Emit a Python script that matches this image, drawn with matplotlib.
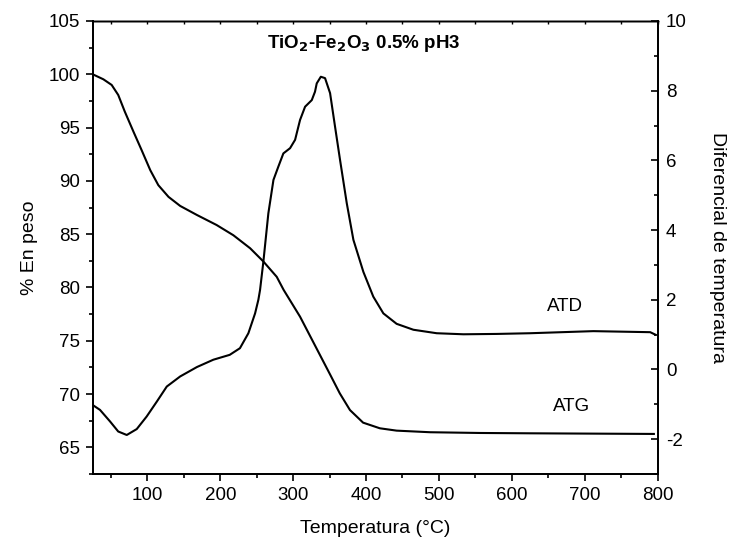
import numpy as np
import matplotlib
matplotlib.use("Agg")
import matplotlib.pyplot as plt
from matplotlib.ticker import MultipleLocator

plt.rcParams['font.family'] = ['Liberation Sans', 'DejaVu Sans']
plt.rcParams['axes.unicode_minus'] = False

# ATG (% en peso), eje izquierdo
atg_T = [25, 39.6, 51, 60, 69, 81, 92, 104, 115, 129, 145, 168, 195, 218, 241,
         259, 277.5, 287, 309.5, 332, 351, 364, 378, 396, 419, 442, 488, 557,
         625, 795]
atg_w = [100.0, 99.53, 99.0, 98.06, 96.5, 94.6, 92.9, 91.0, 89.6, 88.5, 87.65,
         86.8, 85.86, 84.9, 83.68, 82.45, 81.0, 79.77, 77.26, 74.3, 71.8, 70.07,
         68.5, 67.32, 66.79, 66.57, 66.42, 66.35, 66.32, 66.26]

# ATD (diferencial de temperatura), eje derecho
atd_T = [25, 35, 48.7, 60, 71.7, 85.4, 99, 113, 126.6, 145, 168, 190.5, 213,
         227, 238.6, 247.8, 252.3, 254.6, 259.2, 266, 273, 279.7, 286.6, 295.8,
         302.7, 309.5, 316.4, 325.6, 330, 332.4, 338, 343.8, 350.7, 357.5,
         364.4, 373.6, 382.7, 396.4, 410, 423.8, 442, 465, 497, 533.6, 579.5,
         625, 712, 790, 797]
atd_v = [-1.02, -1.16, -1.49, -1.78, -1.88, -1.71, -1.35, -0.92, -0.49, -0.20,
         0.07, 0.28, 0.42, 0.61, 1.04, 1.61, 2.0, 2.28, 3.1, 4.48, 5.44, 5.82,
         6.20, 6.35, 6.59, 7.16, 7.54, 7.73, 7.97, 8.21, 8.40, 8.36, 7.93, 6.97,
         6.01, 4.77, 3.72, 2.8, 2.09, 1.61, 1.31, 1.14, 1.04, 1.01, 1.02, 1.04,
         1.10, 1.07, 1.0]

fig = plt.figure(figsize=(7.33, 5.48), dpi=100)
ax = fig.add_axes([0.1265, 0.135, 0.7705, 0.8267])
ax2 = ax.twinx()

ax.plot(atg_T, atg_w, color='black', lw=1.5)
ax2.plot(atd_T, atd_v, color='black', lw=1.5)

ax.set_xlim(25, 800)
ax.set_ylim(62.5, 105)
ax2.set_ylim(-3, 10)

ax.set_xticks([100, 200, 300, 400, 500, 600, 700, 800])
ax.xaxis.set_minor_locator(MultipleLocator(50))
ax.set_yticks([65, 70, 75, 80, 85, 90, 95, 100, 105])
ax.yaxis.set_minor_locator(MultipleLocator(2.5))
ax2.set_yticks([-2, 0, 2, 4, 6, 8, 10])
ax2.yaxis.set_minor_locator(MultipleLocator(1))

ax.tick_params(axis='both', which='major', direction='out', length=5, width=1.2,
               labelsize=13.5, pad=4)
ax.tick_params(axis='both', which='minor', direction='out', length=3, width=1.2)
ax2.tick_params(axis='y', which='major', direction='in', length=5, width=1.2,
                labelsize=13.5, pad=6)
ax2.tick_params(axis='y', which='minor', direction='in', length=3, width=1.2)

# marcas pequeñas del borde superior
sec = ax.secondary_xaxis('top')
sec.set_xticks([100, 200, 300, 400, 500, 600, 700, 800])
sec.xaxis.set_minor_locator(MultipleLocator(50))
sec.tick_params(which='both', direction='in', length=2, width=1.0,
                labeltop=False)
sec.spines['top'].set_linewidth(1.0)

for a in (ax, ax2):
    for s in a.spines.values():
        s.set_linewidth(1.3)
    a.spines['top'].set_linewidth(1.0)

ax.set_xlabel('Temperatura (°C)', fontsize=14, labelpad=12)
ax.set_ylabel('% En peso', fontsize=14, labelpad=8)
ax2.set_ylabel('Diferencial de temperatura', fontsize=14, rotation=270,
               labelpad=28)

ax.text(0.48, 0.951, r'TiO$_\mathbf{2}$-Fe$_\mathbf{2}$O$_\mathbf{3}$ 0.5% pH3',
        transform=ax.transAxes, ha='center', va='center', fontsize=13.5,
        fontweight='bold')
ax.text(0.836, 0.369, 'ATD', transform=ax.transAxes, ha='center', va='center',
        fontsize=13.5)
ax.text(0.848, 0.150, 'ATG', transform=ax.transAxes, ha='center', va='center',
        fontsize=13.5)

fig.savefig('out.png', dpi=100)
